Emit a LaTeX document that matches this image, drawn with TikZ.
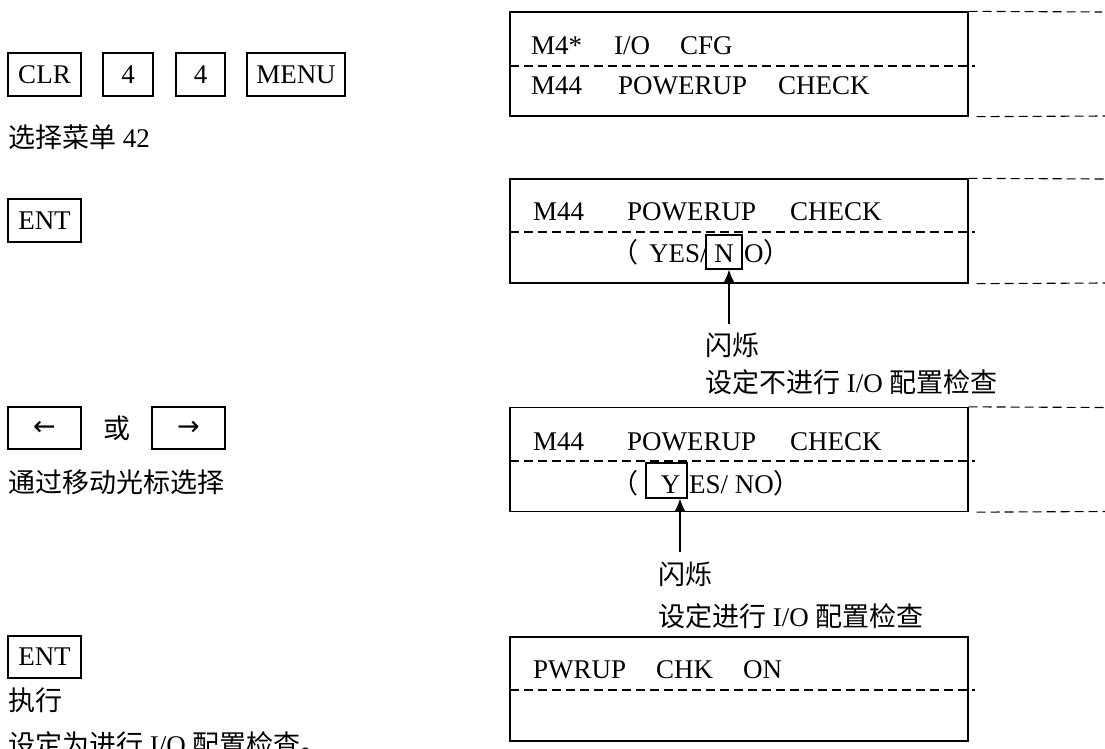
\documentclass[tikz,border=0pt]{standalone}
\usepackage{fontspec}
\setmainfont{Liberation Serif}
\newfontfamily\cjk{Noto Sans CJK SC}
\newfontfamily\symf{DejaVu Sans}
\usetikzlibrary{arrows.meta}
\newcommand{\bigf}{\fontsize{27pt}{32pt}\selectfont}
\tikzset{
  keybox/.style={draw, line width=1.2pt, inner sep=0pt, minimum height=43pt, font=\bigf},
  arrowkey/.style={keybox, minimum width=73pt, minimum height=42pt, font=\fontsize{27pt}{30pt}\symf},
  lcdbox/.style={draw, line width=1.3pt, inner sep=0pt, minimum width=458pt, minimum height=104pt},
  dsh/.style={line width=1.1pt, dash pattern=on 9pt off 5pt},
  wrd/.style={anchor=base west, inner sep=0pt, font=\bigf},
  cjt/.style={anchor=west, inner sep=0pt, font=\bigf\cjk},
  hilite/.style={draw, line width=1.3pt, inner sep=0pt},
  pointer/.style={line width=1.2pt, -{Latex[length=13pt,width=11pt]}},
}
\begin{document}
\begin{tikzpicture}[x=1pt,y=-1pt]
\useasboundingbox (0,0) rectangle (1105,749);
% ---------- left column ----------
\node[keybox, minimum width=73pt] (clr) at (44.5,74.5) {CLR};
\node[keybox, minimum width=50pt] (k4a) at (128,74.5) {4};
\node[keybox, minimum width=49pt] (k4b) at (200.5,74.5) {4};
\node[keybox, minimum width=98pt] (menu) at (296,74.5) {MENU};
\node[cjt] (sel) at (8,137) {选择菜单\rmfamily\ 42};
\node[keybox, minimum width=73pt] (ent1) at (44.5,220.5) {ENT};
\node[arrowkey] (left) at (44.5,428) {←};
\node[cjt, anchor=center] (or) at (117,428) {或};
\node[arrowkey] (right) at (188.5,428) {→};
\node[cjt] (move) at (8,482) {通过移动光标选择};
\node[keybox, minimum width=73pt, minimum height=42pt] (ent2) at (44.5,657) {ENT};
\node[cjt] (exec) at (8,700) {执行};
\node[cjt] (done) at (8,744) {设定为进行\rmfamily\ I/O {\cjk 配置检查。}};
% ---------- LCD 1 ----------
\node[lcdbox] (lcd1) at (739,64) {};
\draw[dsh] (510,66) -- (975,66);
\draw[dsh] (lcd1.north east) -- (1102,12);
\draw[dsh] ([xshift=8pt]lcd1.south east) -- (1105,116);
\node[wrd] (l1a) at (531,55) {M4*};
\node[wrd] (l1b) at (614,55) {I/O};
\node[wrd] (l1c) at (680,55) {CFG};
\node[wrd] (l1d) at (531,95) {M44};
\node[wrd] (l1e) at (618,95) {POWERUP};
\node[wrd] (l1f) at (778,95) {CHECK};
% ---------- LCD 2 ----------
\node[lcdbox] (lcd2) at (739,231) {};
\draw[dsh] (510,232) -- (975,232);
\draw[dsh] (lcd2.north east) -- (1105,179);
\draw[dsh] ([xshift=8pt]lcd2.south east) -- (1105,283);
\node[wrd] (l2a) at (533,220) {M44};
\node[wrd] (l2b) at (627,220) {POWERUP};
\node[wrd] (l2c) at (790,220) {CHECK};
\node[wrd, font=\bigf\cjk] (l2p) at (611,262) {（};
\node[wrd] (l2d) at (649,262) {YES/};
\node[hilite, minimum width=36pt, minimum height=34pt] (nbox) at (724,252) {};
\node[wrd, anchor=base] (l2n) at (724,262) {N};
\node[wrd] (l2e) at (744,262) {O{\cjk ）}};
\coordinate (a1) at (729,324);
\draw[pointer] (a1) -- (a1 |- nbox.south);
\node[cjt] (blink1) at (705,345) {闪烁};
\node[cjt] (noset) at (705,382) {设定不进行\rmfamily\ I/O {\cjk 配置检查}};
% ---------- LCD 3 ----------
\node[lcdbox] (lcd3) at (739,459.5) {};
\draw[dsh] (510,461) -- (975,461);
\draw[dsh] (lcd3.north east) -- (1105,407.5);
\draw[dsh] ([xshift=8pt]lcd3.south east) -- (1105,511.5);
\node[wrd] (l3a) at (533,450) {M44};
\node[wrd] (l3b) at (627,450) {POWERUP};
\node[wrd] (l3c) at (790,450) {CHECK};
\node[wrd, font=\bigf\cjk] (l3p) at (611,493) {（};
\node[hilite, minimum width=41pt, minimum height=35pt] (ybox) at (666.5,480.5) {};
\node[wrd, anchor=base] (l3y) at (670.5,493) {Y};
\node[wrd] (l3d) at (689,493) {ES/ NO{\cjk ）}};
\coordinate (a2) at (680,552);
\draw[pointer] (a2) -- (a2 |- ybox.south);
\node[cjt] (blink2) at (658,574) {闪烁};
\node[cjt] (yesset) at (658,616) {设定进行\rmfamily\ I/O {\cjk 配置检查}};
% ---------- LCD 4 ----------
\node[lcdbox] (lcd4) at (739,689) {};
\draw[dsh] (510,690) -- (975,690);
\node[wrd] (l4a) at (533,678) {PWRUP};
\node[wrd] (l4b) at (656,678) {CHK};
\node[wrd] (l4c) at (743,678) {ON};
\end{tikzpicture}
\end{document}
